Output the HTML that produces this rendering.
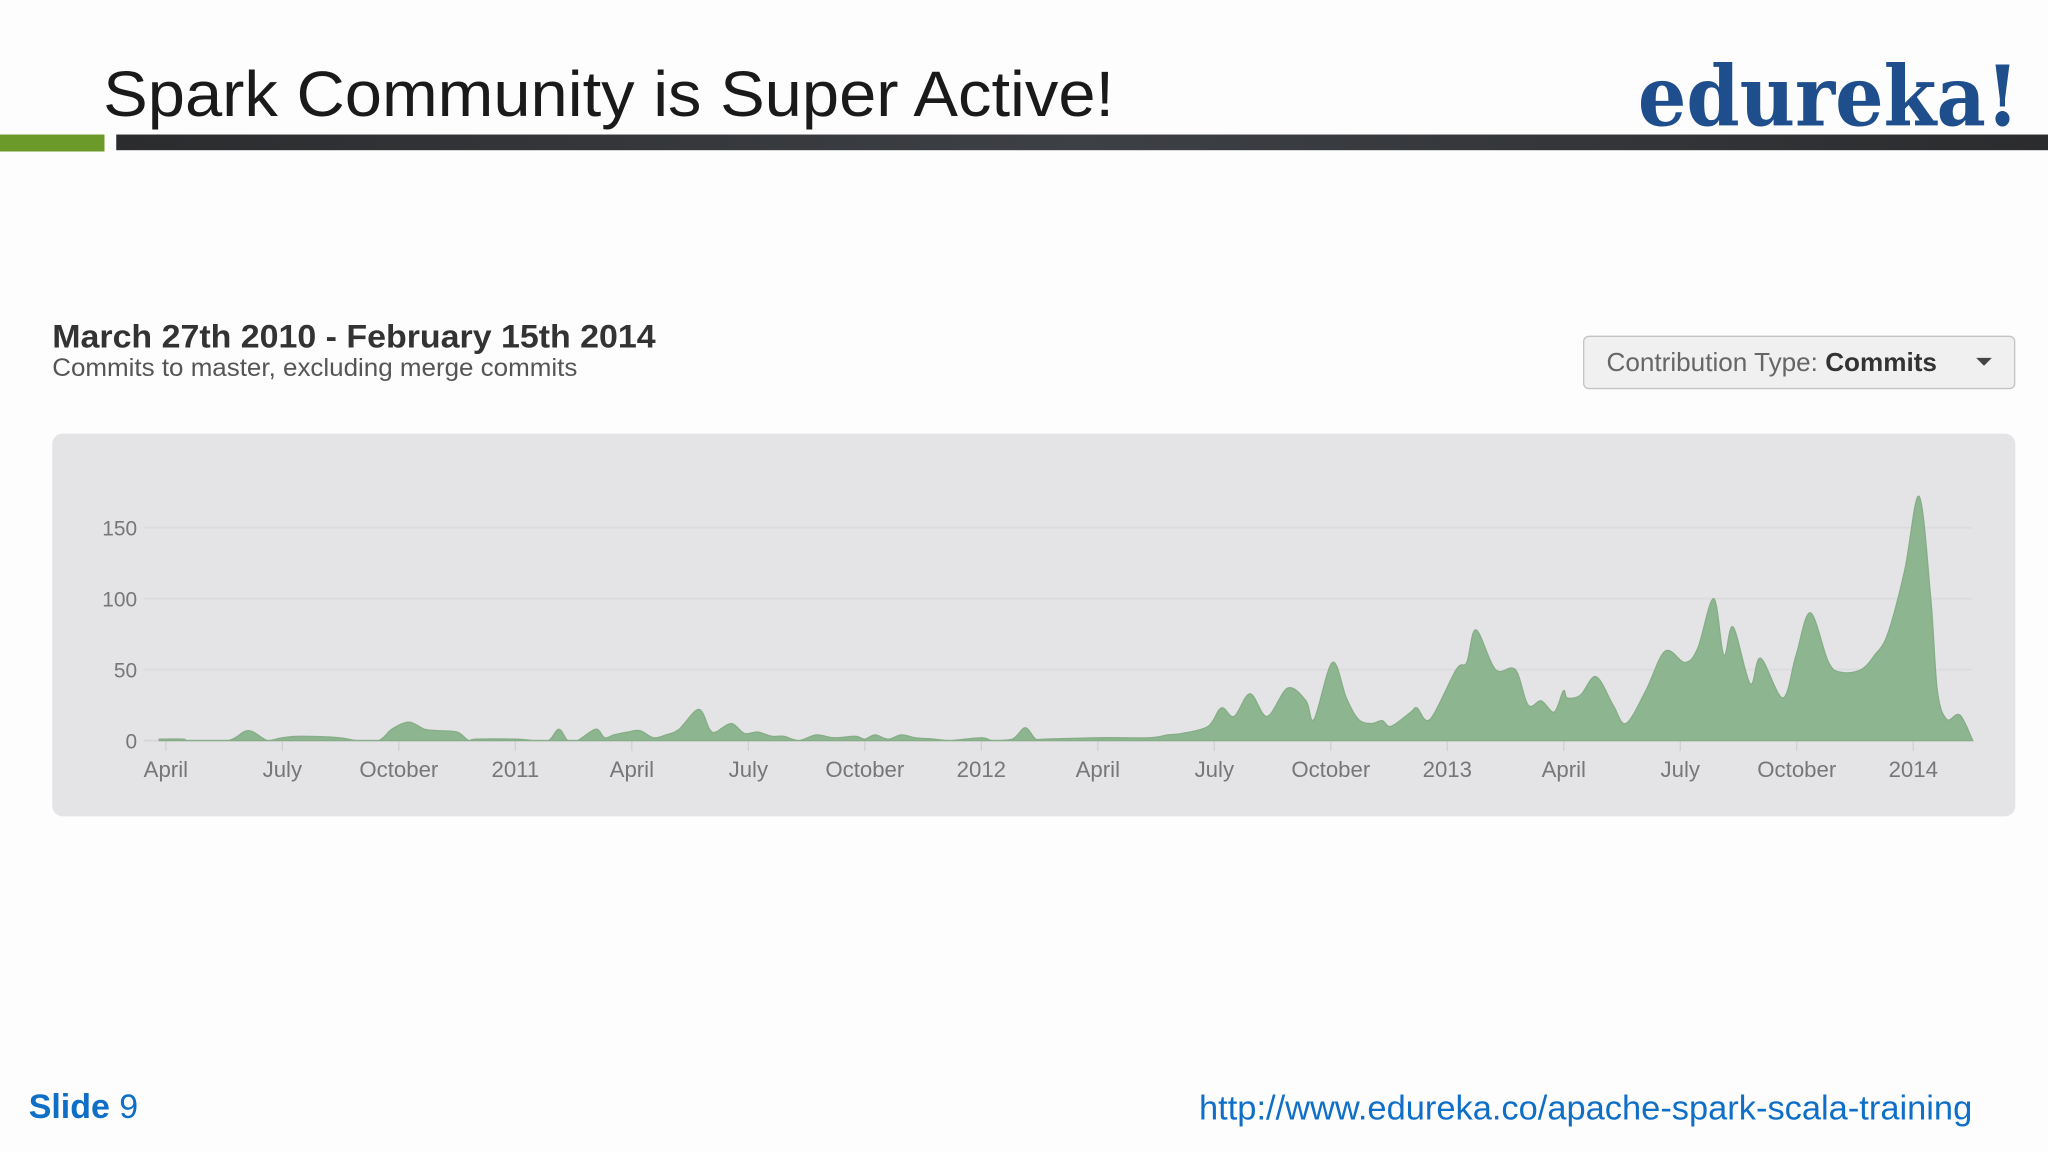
<!DOCTYPE html>
<html><head><meta charset="utf-8">
<style>
html,body{margin:0;padding:0;background:#fdfdfd;}
svg{display:block;}
</style></head>
<body>
<svg id="page" width="2048" height="1152" viewBox="0 0 1568 882" xmlns="http://www.w3.org/2000/svg" font-family="Liberation Sans, Arial, sans-serif">
  <defs>
    <linearGradient id="bar" x1="0" x2="1" y1="0" y2="0">
      <stop offset="0" stop-color="#2b2c2e"/><stop offset="0.5" stop-color="#3d4045"/><stop offset="1" stop-color="#2b2c2e"/>
    </linearGradient>
  </defs>
  <rect x="0" y="0" width="1568" height="882" fill="#fdfdfd"/>
  <text x="79" y="89" font-size="49" fill="#1a1a1a" textLength="774" lengthAdjust="spacingAndGlyphs">Spark Community is Super Active!</text>
  <text x="1254" y="96" font-size="64" font-weight="bold" fill="#1f4e8c" font-family="DejaVu Serif, Liberation Serif, serif" textLength="292" lengthAdjust="spacingAndGlyphs">edureka!</text>
  <rect x="0" y="103" width="80" height="13" fill="#6c9a2a"/>
  <rect x="89" y="103" width="1479" height="12" fill="url(#bar)"/>

  <text x="40" y="266" font-size="25" font-weight="bold" fill="#333" textLength="462" lengthAdjust="spacingAndGlyphs">March 27th 2010 - February 15th 2014</text>
  <text x="40" y="288" font-size="19" fill="#555" textLength="402" lengthAdjust="spacingAndGlyphs">Commits to master, excluding merge commits</text>

  <g>
    <rect x="1212.5" y="257.5" width="330" height="40" rx="4" fill="#f0f0f0" stroke="#c4c4c4"/>
    <text x="1230" y="284" font-size="20" fill="#666">Contribution Type: <tspan font-weight="bold" fill="#333">Commits</tspan></text>
    <path d="M1513 274 l12 0 l-6 6 z" fill="#444"/>
  </g>

  <rect x="40" y="332" width="1503" height="293" rx="8" fill="#e4e4e6"/>
  <g id="chart"></g>

  <text x="22" y="856" font-size="26" fill="#0f6fc6"><tspan font-weight="bold">Slide</tspan> 9</text>
  <text x="918" y="857" font-size="26" fill="#0f6fc6" textLength="592" lengthAdjust="spacingAndGlyphs">http://www.edureka.co/apache-spark-scala-training</text>
</svg>
<script>
// tick labels and their month positions (months since Jan 2010)
const xTickLabels = ["April","July","October","2011","April","July","October","2012","April","July","October","2013","April","July","October","2014"];
const xTickMonths = [3,6,9,12,15,18,21,24,27,30,33,36,39,42,45,48];
const yTicks = [0,50,100,150];
// data: dates (months since Jan 2010) and weekly commit counts
const weekMonths = [2.83,3.44,3.6,4.6,5.12,5.62,6.0,6.46,7.47,7.9,8.48,8.82,9.26,9.66,10.0,10.5,10.8,11.0,12.0,12.5,12.86,13.12,13.35,13.6,14.07,14.3,14.54,14.9,15.21,15.55,15.88,16.22,16.72,17.0,17.16,17.56,17.9,18.24,18.6,18.91,19.3,19.75,20.2,20.76,21.0,21.26,21.6,21.94,22.3,22.78,23.2,24.0,24.29,24.8,25.13,25.4,25.64,27.0,28.33,28.8,29.17,29.84,30.18,30.51,30.92,31.36,31.89,32.36,32.57,33.04,33.4,33.71,34.05,34.32,34.55,35.06,35.22,35.56,36.23,36.5,36.74,37.24,37.75,38.08,38.42,38.75,38.99,39.09,39.43,39.83,40.27,40.6,41.11,41.61,42.12,42.45,42.86,43.12,43.36,43.8,44.07,44.64,44.98,45.35,45.82,46.16,46.66,47.0,47.34,47.78,48.15,48.45,48.62,48.86,49.2,49.53];
const commits = [1,1,0,0,7,0,2,3,2,0,0,8,13,8,7,6,0,1,1,0,0,8,0,0,8,2,4,6,7,2,4,8,22,8,6,12,5,6,3,3,0,4,2,3,1,4,1,4,2,1,0,2,0,1,9,1,1,2,2,4,5,10,23,17,33,17,37,28,15,55,30,15,12,14,10,20,23,15,50,55,78,50,50,25,28,20,35,30,32,45,25,12,35,63,55,65,100,60,80,40,58,30,60,90,55,48,50,60,75,120,172,100,35,15,18,0];

const X0 = 127, PX_PER_MONTH = 29.73, Y0 = 567, PX_PER_UNIT = 163/150;
const xScale = m => X0 + (m - 3) * PX_PER_MONTH;
const yScale = v => Y0 - v * PX_PER_UNIT;
const NS = "http://www.w3.org/2000/svg";
const g = document.getElementById('chart');
function mk(tag, attrs){ const e=document.createElementNS(NS,tag); for(const k in attrs) e.setAttribute(k,attrs[k]); g.appendChild(e); return e; }

yTicks.forEach(v=>{
  const l = mk('line',{x1:110,x2:1510,y1:yScale(v),y2:yScale(v),stroke:v===0?'#d6d6d8':'#dcdcde','stroke-width':1.5});
  
  
  const t = mk('text',{x:105,y:yScale(v)+6,'font-size':16,fill:'#777','text-anchor':'end'});
  t.textContent = v;
  
  
});
xTickLabels.forEach((lab,i)=>{
  const x = xScale(xTickMonths[i]);
  const l = mk('line',{x1:x,x2:x,y1:Y0,y2:Y0+8,stroke:'#d0d0d2','stroke-width':1});
  
  
  const t = mk('text',{x:x,y:595,'font-size':17,fill:'#777','text-anchor':'middle'});
  t.textContent = lab;
  
  
});
const pts = weekMonths.map((m,i)=>[xScale(m), yScale(commits[i])]);
let d = `M${pts[0][0]},${Y0} L${pts[0][0]},${pts[0][1]}`;
for(let i=0;i<pts.length-1;i++){
  const p0=pts[i-1]||pts[i], p1=pts[i], p2=pts[i+1], p3=pts[i+2]||p2;
  let c1y=p1[1]+(p2[1]-p0[1])/6, c2y=p2[1]-(p3[1]-p1[1])/6;
  c1y=Math.min(c1y,Y0); c2y=Math.min(c2y,Y0);
  d+=` C${p1[0]+(p2[0]-p0[0])/6},${c1y} ${p2[0]-(p3[0]-p1[0])/6},${c2y} ${p2[0]},${p2[1]}`;
}
d += ` L${pts[pts.length-1][0]},${Y0} Z`;
const area = mk('path',{d:d,fill:'#8db58f',stroke:'#86ad88','stroke-width':1});


</script>
</body></html>
